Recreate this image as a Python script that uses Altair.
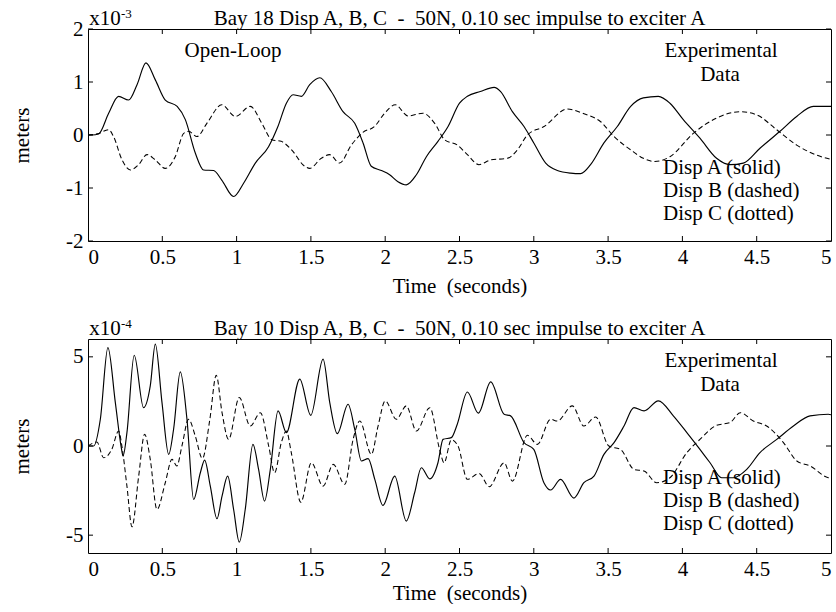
import altair as alt
import pandas as pd

FONT = "Liberation Serif"
FS = 21
W = 743
H_TOP = 212
H_BOT = 214

# ---------------- data ----------------
X_TICKS = [0, 0.5, 1, 1.5, 2, 2.5, 3, 3.5, 4, 4.5, 5]
TOP_Y_TICKS = [-2, -1, 0, 1, 2]
BOT_Y_TICKS = [-5, 0, 5]

# Bay 18 (x10^-3 m)
top_a_t = [0, 0.027, 0.072, 0.139, 0.206, 0.273, 0.33, 0.39, 0.453, 0.52, 0.6, 0.655, 0.722,
           0.778, 0.845, 0.9, 0.98, 1.047, 1.126, 1.215, 1.278, 1.335, 1.38, 1.436, 1.492,
           1.56, 1.637, 1.716, 1.795, 1.851, 1.906, 1.974, 2.03, 2.086, 2.142, 2.21, 2.277,
           2.355, 2.423, 2.5, 2.553, 2.64, 2.733, 2.777, 2.856, 2.934, 3.0, 3.08, 3.158,
           3.248, 3.315, 3.382, 3.472, 3.562, 3.652, 3.737, 3.838, 3.916, 4.006, 4.118,
           4.23, 4.32, 4.41, 4.522, 4.657, 4.769, 4.881, 5.0]
top_a_v = [0, 0, 0.02, 0.41, 0.73, 0.66, 0.95, 1.36, 1.04, 0.66, 0.54, 0.29, -0.34,
           -0.66, -0.67, -0.85, -1.16, -0.91, -0.53, -0.22, 0.16, 0.6, 0.76, 0.73, 0.95,
           1.08, 0.82, 0.44, 0.22, -0.15, -0.59, -0.67, -0.75, -0.88, -0.94, -0.75, -0.41,
           -0.12, 0.16, 0.6, 0.73, 0.82, 0.9, 0.82, 0.44, 0.16, -0.15, -0.53, -0.67,
           -0.72, -0.73, -0.56, -0.15, 0.16, 0.54, 0.7, 0.73, 0.6, 0.29, -0.06,
           -0.44, -0.56, -0.53, -0.25, 0.07, 0.35, 0.54, 0.54]

top_b_t = [0, 0.072, 0.139, 0.172, 0.229, 0.285, 0.341, 0.397, 0.453, 0.52, 0.587, 0.644,
           0.678, 0.733, 0.8, 0.9, 0.992, 1.092, 1.17, 1.238, 1.3, 1.37, 1.458, 1.492,
           1.57, 1.626, 1.693, 1.772, 1.85, 1.928, 1.996, 2.068, 2.153, 2.254, 2.333, 2.4,
           2.485, 2.553, 2.631, 2.71, 2.822, 2.89, 2.957, 3.069, 3.226, 3.338, 3.45, 3.54,
           3.652, 3.737, 3.815, 3.916, 4.073, 4.23, 4.387, 4.5, 4.634, 4.769, 4.904, 5.0]
top_b_v = [0, 0.03, 0.1, -0.03, -0.47, -0.66, -0.56, -0.37, -0.47, -0.63, -0.41, 0.03,
           0.07, -0.03, 0.22, 0.57, 0.35, 0.54, 0.22, -0.09, -0.12, -0.28, -0.59, -0.63,
           -0.44, -0.37, -0.53, -0.19, 0.05, 0.16, 0.41, 0.57, 0.36, 0.41, 0.22, -0.09,
           -0.19, -0.37, -0.56, -0.47, -0.44, -0.28, 0.0, 0.16, 0.49, 0.4, 0.25, -0.03,
           -0.28, -0.44, -0.5, -0.41, 0.03, 0.32, 0.44, 0.38, 0.1, -0.19, -0.38, -0.46]

# Bay 10 (x10^-4 m)
bot_a_t = [0, 0.038, 0.083, 0.134, 0.184, 0.224, 0.236, 0.262, 0.311, 0.374, 0.419, 0.453,
           0.498, 0.543, 0.576, 0.621, 0.666, 0.711, 0.756, 0.785, 0.823, 0.868, 0.902, 0.94,
           0.98, 1.018, 1.058, 1.11, 1.148, 1.188, 1.227, 1.279, 1.335, 1.425, 1.499, 1.582,
           1.627, 1.678, 1.75, 1.795, 1.84, 1.885, 1.93, 1.985, 2.064, 2.142, 2.198, 2.243,
           2.3, 2.355, 2.389, 2.445, 2.485, 2.553, 2.627, 2.71, 2.8, 2.844, 2.934, 3.0,
           3.068, 3.113, 3.18, 3.27, 3.337, 3.405, 3.472, 3.54, 3.607, 3.674, 3.742, 3.838,
           3.939, 4.03, 4.118, 4.186, 4.264, 4.343, 4.433, 4.522, 4.635, 4.747, 4.859, 4.982, 5.0]
bot_a_v = [0, 0, 1.5, 5.52, 2.43, -0.09, -0.56, 0.75, 5.09, 2.15, 3.37, 5.71,
           2.43, -0.47, 0.94, 4.16, 1.5, -3.0, -1.5, -0.79, -2.25, -4.08, -2.81, -1.69,
           -3.56, -5.39, -3.56, 0.09, -1.31, -3.09, -1.31, 1.97, 0.75, 3.75, 1.72, 4.87,
           2.43, 0.69, 2.34, 0.94, -0.84, -0.71, -1.87, -3.33, -1.69, -4.21, -2.62, -1.22,
           -1.84, -0.94, 0.37, 0.47, 1.22, 3.03, 1.84, 3.6, 1.78, 1.69, 0.19, -0.19,
           -2.06, -2.47, -1.87, -2.92, -2.06, -1.69, -0.47, 0.19, 1.12, 2.15, 1.97, 2.53,
           1.69, 0.75, -0.19, -0.94, -1.78, -1.78, -1.31, -0.37, 0.37, 1.12, 1.69, 1.78, 1.75]

bot_b_t = [0, 0.06, 0.105, 0.16, 0.206, 0.228, 0.262, 0.296, 0.341, 0.381, 0.419, 0.464,
           0.52, 0.565, 0.598, 0.632, 0.677, 0.722, 0.77, 0.82, 0.863, 0.902, 0.946, 1.018,
           1.092, 1.16, 1.216, 1.256, 1.301, 1.335, 1.368, 1.432, 1.503, 1.582, 1.65, 1.728,
           1.784, 1.829, 1.907, 1.952, 2.0, 2.075, 2.142, 2.21, 2.3, 2.366, 2.396, 2.445,
           2.49, 2.553, 2.632, 2.7, 2.8, 2.856, 2.957, 3.024, 3.113, 3.158, 3.259, 3.337,
           3.416, 3.505, 3.584, 3.674, 3.742, 3.827, 3.916, 4.03, 4.118, 4.23, 4.32, 4.39,
           4.477, 4.567, 4.68, 4.77, 4.859, 4.982, 5.0]
bot_b_v = [0, 0.22, -0.66, -0.19, 0.84, 0.0, -2.25, -4.53, -1.69, 0.66, -0.75, -3.56,
           -2.06, -0.75, -1.12, 0.0, 1.5, 0.56, -0.7, 1.5, 3.97, 1.87, 0.37, 2.72,
           1.12, 1.87, 0.0, -1.5, 0.19, 0.84, -0.37, -3.15, -0.94, -2.25, -1.03, -2.15,
           0.37, 1.4, -0.47, 1.12, 2.53, 1.5, 2.25, 0.84, 2.15, -0.19, -0.94, 0.35,
           0.0, -1.87, -1.54, -2.28, -0.94, -1.97, 0.6, 0.09, 1.5, 1.4, 2.25, 1.12,
           1.63, 0.0, -0.19, -1.31, -1.4, -2.06, -1.78, -0.37, 0.37, 1.16, 1.31, 1.87,
           1.4, 1.12, 0.19, -0.84, -1.12, -1.78, -1.8]

TOP_TITLE = "Bay 18 Disp A, B, C\u00a0 -\u00a0 50N, 0.10 sec impulse to exciter A"
BOT_TITLE = "Bay 10 Disp A, B, C\u00a0 -\u00a0 50N, 0.10 sec impulse to exciter A"
LEGEND_LINES = ["Disp A (solid)", "Disp B (dashed)", "Disp C (dotted)"]


def one():
    return pd.DataFrame({"k": [0]})


def text_layer(txt, x, y, size=FS, align="left"):
    return alt.Chart(one()).mark_text(
        text=txt, font=FONT, fontSize=size, color="black", align=align, baseline="alphabetic"
    ).encode(x=alt.value(x), y=alt.value(y))


def panel(a_t, a_v, b_t, b_v, ydom, yticks, h, title, exp, extra_texts, marker, xtitle_y):
    xs = alt.Scale(domain=[0, 5], nice=False, zero=False)
    ys = alt.Scale(domain=ydom, nice=False, zero=False)
    xaxis = alt.Axis(values=X_TICKS, labelExpr="'' + datum.value", ticks=False, tickSize=0,
                     domain=False, grid=False, labelFont=FONT, labelFontSize=FS,
                     labelColor="black", labelPadding=5, title="Time\u00a0 (seconds)",
                     titleFont=FONT, titleFontSize=FS, titleFontWeight="normal",
                     titleColor="black", titleY=xtitle_y, titleBaseline="alphabetic")
    yaxis = alt.Axis(values=yticks, labelExpr="'' + datum.value", ticks=False, tickSize=0,
                     domain=False, grid=False, labelFont=FONT, labelFontSize=FS,
                     labelColor="black", labelPadding=5, title="meters",
                     titleFont=FONT, titleFontSize=FS, titleFontWeight="normal",
                     titleColor="black", titleX=-60, titleY=h / 2, titleAngle=-90,
                     titleBaseline="alphabetic")
    X = alt.X("t:Q", scale=xs, axis=xaxis)
    Y = alt.Y("v:Q", scale=ys, axis=yaxis)
    dfa = pd.DataFrame({"t": a_t, "v": a_v})
    dfb = pd.DataFrame({"t": b_t, "v": b_v})
    la = alt.Chart(dfa).mark_line(color="black", strokeWidth=1.15, interpolate="monotone",
                                  clip=True).encode(x=X, y=Y)
    lb = alt.Chart(dfb).mark_line(color="black", strokeWidth=1.05, interpolate="monotone",
                                  clip=True, strokeDash=[5, 3]).encode(x=X, y=Y)
    dxt = pd.DataFrame({"t": X_TICKS[1:-1]})
    dyt = pd.DataFrame({"v": yticks})
    tk = dict(color="black", strokeWidth=1)
    tb = alt.Chart(dxt).mark_rule(**tk).encode(x=X, y=alt.value(h), y2=alt.value(h - 5))
    tt = alt.Chart(dxt).mark_rule(**tk).encode(x=X, y=alt.value(0), y2=alt.value(5))
    tl = alt.Chart(dyt).mark_rule(**tk).encode(y=Y, x=alt.value(0), x2=alt.value(5))
    tr = alt.Chart(dyt).mark_rule(**tk).encode(y=Y, x=alt.value(W), x2=alt.value(W - 5))
    layers = [la, lb, tb, tt, tl, tr,
              text_layer(title, W / 2, -4, align="center"),
              text_layer("x10", 1.3, -4),
              text_layer(exp, 33, -11, size=13),
              text_layer("Experimental", 633, 28, align="center"),
              text_layer("Data", 632, 52, align="center")]
    for i, s in enumerate(LEGEND_LINES):
        layers.append(text_layer(s, 575, 145 + 23 * i))
    for (s, x, y) in extra_texts:
        layers.append(text_layer(s, x, y, align="center"))
    if marker:
        layers.append(alt.Chart(one()).mark_rule(strokeWidth=0, opacity=0).encode(
            x=alt.value(-86.7), x2=alt.value(-86.7), y=alt.value(-28), y2=alt.value(-27)))
    return alt.layer(*layers).properties(width=W, height=h)


top = panel(top_a_t, top_a_v, top_b_t, top_b_v, [-2, 2], TOP_Y_TICKS, H_TOP, TOP_TITLE,
            "-3", [("Open-Loop", 145, 28)], True, 51)
bot = panel(bot_a_t, bot_a_v, bot_b_t, bot_b_v, [-6, 6], BOT_Y_TICKS, H_BOT, BOT_TITLE,
            "-4", [], False, 46)

chart = alt.vconcat(top, bot, spacing=98, bounds="flush").resolve_scale(
    x="independent", y="independent"
).properties(padding=0, background="white").configure_view(
    stroke="black", strokeWidth=1
)

chart.save("out.html", embed_options={"renderer": "svg", "actions": False})
